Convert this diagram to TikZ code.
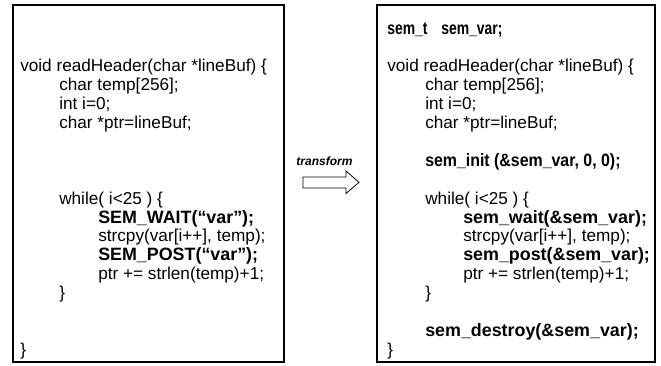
\documentclass[tikz,border=0pt]{standalone}
\usepackage{fontspec}
\usepackage{graphicx}
\setmainfont{Liberation Sans}
\begin{document}
\begin{tikzpicture}[x=0.75pt,y=-0.75pt,
  panel/.style={draw=black,line width=0.8pt,fill=white},
  code/.style={anchor=base west,inner sep=0pt,font=\fontsize{12.9}{15}\selectfont},
  codeb/.style={code,font=\fontsize{13.4}{15}\selectfont\bfseries},
  blockarrow/.style={draw=black,line width=0.6pt,fill=white,line join=miter}]
\useasboundingbox (0,0) rectangle (661,365);
% the two code panels
\draw[panel] (13,5) rectangle (284,362);
\draw[panel] (377,5) rectangle (655,362);
% line grid: baseline of line k is 34 + 18.9 k
\def\ly#1{34+18.9*#1}
% narrow setting used for a few bold statements
\newcommand\narrowtxt[2]{\scalebox{#1}[1]{#2}}
% ---- original code ----
\node[code]  (l2)  at (20,{\ly{2}})  {void readHeader(char *lineBuf) \{};
\node[code]  (l3)  at (59,{\ly{3}})  {char temp[256];};
\node[code]  (l4)  at (59,{\ly{4}})  {int i=0;};
\node[code]  (l5)  at (59,{\ly{5}})  {char *ptr=lineBuf;};
\node[code]  (l9)  at (59,{\ly{9}})  {while( i<25 ) \{};
\node[codeb] (l10) at (98,{\ly{10}}) {SEM\_WAIT(“var”);};
\node[code]  (l11) at (98,{\ly{11}}) {strcpy(var[i++], temp);};
\node[codeb] (l12) at (98,{\ly{12}}) {SEM\_POST(“var”);};
\node[code]  (l13) at (98,{\ly{13}}) {ptr += strlen(temp)+1;};
\node[code]  (l14) at (59,{\ly{14}}) {\}};
\node[code]  (l17) at (20,{\ly{17}}) {\}};
% ---- transformed code ----
\node[codeb] (r0a) at (387,{\ly{0}})  {\narrowtxt{0.78}{sem\_t}};
\node[codeb] (r0b) at (441,{\ly{0}})  {\narrowtxt{0.78}{sem\_var;}};
\node[code]  (r2)  at (387,{\ly{2}})  {void readHeader(char *lineBuf) \{};
\node[code]  (r3)  at (425,{\ly{3}})  {char temp[256];};
\node[code]  (r4)  at (425,{\ly{4}})  {int i=0;};
\node[code]  (r5)  at (425,{\ly{5}})  {char *ptr=lineBuf;};
\node[codeb] (r7)  at (425,{\ly{7}})  {\narrowtxt{0.89}{sem\_init (\&sem\_var, 0, 0);}};
\node[code]  (r9)  at (425,{\ly{9}})  {while( i<25 ) \{};
\node[codeb] (r10) at (463,{\ly{10}}) {sem\_wait(\&sem\_var);};
\node[code]  (r11) at (463,{\ly{11}}) {strcpy(var[i++], temp);};
\node[codeb] (r12) at (463,{\ly{12}}) {sem\_post(\&sem\_var);};
\node[code]  (r13) at (463,{\ly{13}}) {ptr += strlen(temp)+1;};
\node[code]  (r14) at (425,{\ly{14}}) {\}};
\node[codeb] (r16) at (425,{\ly{16}}) {sem\_destroy(\&sem\_var);};
\node[code]  (r17) at (387,{\ly{17}}) {\}};
% ---- transform arrow ----
\node[font=\fontsize{9}{10}\selectfont\bfseries\itshape,inner sep=0pt] (lbl) at (324.5,161) {transform};
\draw[blockarrow] (303,177) -- (346,177) -- (346,171) -- (359,182.3)
  -- (346,193.5) -- (346,188) -- (303,188) -- cycle;
\end{tikzpicture}
\end{document}
